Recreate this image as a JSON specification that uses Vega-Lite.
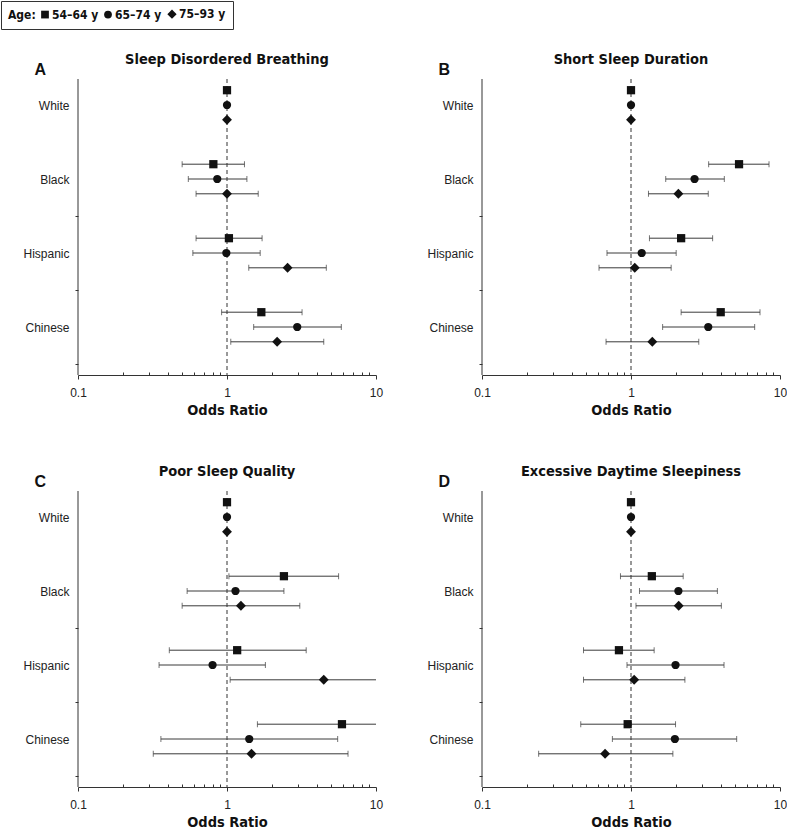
{
  "$schema": "https://vega.github.io/schema/vega-lite/v6.json",
  "padding": 0,
  "background": "white",
  "datasets": {
    "d": [
      {"panel": "A", "race": "White", "age": "54–64 y", "or": 1.0, "lo": null, "hi": null},
      {"panel": "A", "race": "White", "age": "65–74 y", "or": 1.0, "lo": null, "hi": null},
      {"panel": "A", "race": "White", "age": "75–93 y", "or": 1.0, "lo": null, "hi": null},
      {"panel": "A", "race": "Black", "age": "54–64 y", "or": 0.81, "lo": 0.50, "hi": 1.31},
      {"panel": "A", "race": "Black", "age": "65–74 y", "or": 0.86, "lo": 0.55, "hi": 1.36},
      {"panel": "A", "race": "Black", "age": "75–93 y", "or": 1.00, "lo": 0.62, "hi": 1.62},
      {"panel": "A", "race": "Hispanic", "age": "54–64 y", "or": 1.03, "lo": 0.62, "hi": 1.72},
      {"panel": "A", "race": "Hispanic", "age": "65–74 y", "or": 0.99, "lo": 0.59, "hi": 1.67},
      {"panel": "A", "race": "Hispanic", "age": "75–93 y", "or": 2.55, "lo": 1.40, "hi": 4.64},
      {"panel": "A", "race": "Chinese", "age": "54–64 y", "or": 1.70, "lo": 0.92, "hi": 3.19},
      {"panel": "A", "race": "Chinese", "age": "65–74 y", "or": 2.96, "lo": 1.51, "hi": 5.85},
      {"panel": "A", "race": "Chinese", "age": "75–93 y", "or": 2.17, "lo": 1.06, "hi": 4.46},

      {"panel": "B", "race": "White", "age": "54–64 y", "or": 1.0, "lo": null, "hi": null},
      {"panel": "B", "race": "White", "age": "65–74 y", "or": 1.0, "lo": null, "hi": null},
      {"panel": "B", "race": "White", "age": "75–93 y", "or": 1.0, "lo": null, "hi": null},
      {"panel": "B", "race": "Black", "age": "54–64 y", "or": 5.31, "lo": 3.32, "hi": 8.44},
      {"panel": "B", "race": "Black", "age": "65–74 y", "or": 2.67, "lo": 1.71, "hi": 4.23},
      {"panel": "B", "race": "Black", "age": "75–93 y", "or": 2.08, "lo": 1.31, "hi": 3.30},
      {"panel": "B", "race": "Hispanic", "age": "54–64 y", "or": 2.17, "lo": 1.33, "hi": 3.53},
      {"panel": "B", "race": "Hispanic", "age": "65–74 y", "or": 1.18, "lo": 0.69, "hi": 2.01},
      {"panel": "B", "race": "Hispanic", "age": "75–93 y", "or": 1.06, "lo": 0.61, "hi": 1.86},
      {"panel": "B", "race": "Chinese", "age": "54–64 y", "or": 4.00, "lo": 2.17, "hi": 7.34},
      {"panel": "B", "race": "Chinese", "age": "65–74 y", "or": 3.30, "lo": 1.63, "hi": 6.76},
      {"panel": "B", "race": "Chinese", "age": "75–93 y", "or": 1.39, "lo": 0.68, "hi": 2.85},

      {"panel": "C", "race": "White", "age": "54–64 y", "or": 1.0, "lo": null, "hi": null},
      {"panel": "C", "race": "White", "age": "65–74 y", "or": 1.0, "lo": null, "hi": null},
      {"panel": "C", "race": "White", "age": "75–93 y", "or": 1.0, "lo": null, "hi": null},
      {"panel": "C", "race": "Black", "age": "54–64 y", "or": 2.41, "lo": 1.03, "hi": 5.61},
      {"panel": "C", "race": "Black", "age": "65–74 y", "or": 1.14, "lo": 0.54, "hi": 2.41},
      {"panel": "C", "race": "Black", "age": "75–93 y", "or": 1.24, "lo": 0.50, "hi": 3.08},
      {"panel": "C", "race": "Hispanic", "age": "54–64 y", "or": 1.17, "lo": 0.41, "hi": 3.40},
      {"panel": "C", "race": "Hispanic", "age": "65–74 y", "or": 0.80, "lo": 0.35, "hi": 1.81},
      {"panel": "C", "race": "Hispanic", "age": "75–93 y", "or": 4.46, "lo": 1.05, "hi": 11},
      {"panel": "C", "race": "Chinese", "age": "54–64 y", "or": 5.91, "lo": 1.60, "hi": 11},
      {"panel": "C", "race": "Chinese", "age": "65–74 y", "or": 1.41, "lo": 0.36, "hi": 5.53},
      {"panel": "C", "race": "Chinese", "age": "75–93 y", "or": 1.46, "lo": 0.32, "hi": 6.49},

      {"panel": "D", "race": "White", "age": "54–64 y", "or": 1.0, "lo": null, "hi": null},
      {"panel": "D", "race": "White", "age": "65–74 y", "or": 1.0, "lo": null, "hi": null},
      {"panel": "D", "race": "White", "age": "75–93 y", "or": 1.0, "lo": null, "hi": null},
      {"panel": "D", "race": "Black", "age": "54–64 y", "or": 1.38, "lo": 0.85, "hi": 2.24},
      {"panel": "D", "race": "Black", "age": "65–74 y", "or": 2.08, "lo": 1.14, "hi": 3.80},
      {"panel": "D", "race": "Black", "age": "75–93 y", "or": 2.09, "lo": 1.08, "hi": 4.04},
      {"panel": "D", "race": "Hispanic", "age": "54–64 y", "or": 0.83, "lo": 0.48, "hi": 1.43},
      {"panel": "D", "race": "Hispanic", "age": "65–74 y", "or": 1.99, "lo": 0.94, "hi": 4.21},
      {"panel": "D", "race": "Hispanic", "age": "75–93 y", "or": 1.05, "lo": 0.48, "hi": 2.30},
      {"panel": "D", "race": "Chinese", "age": "54–64 y", "or": 0.95, "lo": 0.46, "hi": 1.99},
      {"panel": "D", "race": "Chinese", "age": "65–74 y", "or": 1.97, "lo": 0.75, "hi": 5.12},
      {"panel": "D", "race": "Chinese", "age": "75–93 y", "or": 0.67, "lo": 0.24, "hi": 1.91}
    ]
  },
  "columns": 2,
  "spacing": {"column": 43, "row": 46},
  "concat": [
    {
      "width": 298, "height": 296,
      "title": {"text": "Sleep Disordered Breathing"},
      "layer": [
        {"data": {"values": [{}]}, "mark": {"type": "rule", "color": "#333", "strokeWidth": 1}, "encoding": {"x": {"datum": 0.1, "type": "quantitative"}}},
        {"data": {"values": [{}]}, "mark": {"type": "rule", "color": "#333", "strokeWidth": 1, "strokeDash": [4, 3]}, "encoding": {"x": {"datum": 1, "type": "quantitative"}}},
        {
          "data": {"name": "d"},
          "transform": [{"filter": "datum.panel === 'A'"}],
          "encoding": {
            "y": {"field": "race", "type": "nominal", "sort": ["White", "Black", "Hispanic", "Chinese"], "scale": {"range": [-11, 285], "paddingInner": 0, "paddingOuter": 0},
              "axis": {"title": "A", "domain": false, "tickBand": "extent", "tickOpacity": {"condition": {"test": "datum.value === 'White' || datum.index < 0 || datum.extra", "value": 0}, "value": 1}}},
            "yOffset": {"field": "age", "type": "nominal", "sort": ["54–64 y", "65–74 y", "75–93 y"], "scale": {"paddingOuter": 1.14, "paddingInner": 0}}
          },
          "layer": [
            {"mark": {"type": "rule", "color": "#3a3a3a", "strokeWidth": 1, "clip": true}, "encoding": {"x": {"field": "lo", "type": "quantitative"}, "x2": {"field": "hi"}}},
            {"mark": {"type": "tick", "color": "#3a3a3a", "thickness": 1, "size": 6, "clip": true}, "encoding": {"x": {"field": "lo", "type": "quantitative"}}},
            {"mark": {"type": "tick", "color": "#3a3a3a", "thickness": 1, "size": 6, "clip": true}, "encoding": {"x": {"field": "hi", "type": "quantitative"}}},
            {"mark": {"type": "point", "filled": true, "color": "#111", "opacity": 1, "size": 68},
              "encoding": {
                "x": {"field": "or", "type": "quantitative", "scale": {"type": "log", "domain": [0.1, 10]}, "axis": {"title": "Odds Ratio"}},
                "shape": {"field": "age", "type": "nominal", "scale": {"domain": ["54–64 y", "65–74 y", "75–93 y"], "range": ["square", "circle", "M-1.2,0L0,-1.2L1.2,0L0,1.2Z"]},
                  "legend": {"title": "Age:", "orient": "none", "legendX": -77, "legendY": -78, "direction": "horizontal", "titleOrient": "left", "strokeColor": "#333", "fillColor": "white", "padding": 7, "titleFontSize": 12, "titleFontWeight": "bold", "labelFontSize": 12, "labelFontWeight": "bold", "titleFont": "Liberation Sans Narrow, DejaVu Sans Condensed, Liberation Sans", "labelFont": "Liberation Sans Narrow, DejaVu Sans Condensed, Liberation Sans", "symbolFillColor": "#111", "symbolStrokeColor": "#111", "symbolSize": 60, "labelOffset": 1, "columnPadding": 2, "titlePadding": 3, "labelColor": "#111", "titleColor": "#111"}}
              }}
          ]
        }
      ]
    },
    {
      "width": 298, "height": 296,
      "title": {"text": "Short Sleep Duration"},
      "layer": [
        {"data": {"values": [{}]}, "mark": {"type": "rule", "color": "#333", "strokeWidth": 1}, "encoding": {"x": {"datum": 0.1, "type": "quantitative"}}},
        {"data": {"values": [{}]}, "mark": {"type": "rule", "color": "#333", "strokeWidth": 1, "strokeDash": [4, 3]}, "encoding": {"x": {"datum": 1, "type": "quantitative"}}},
        {
          "data": {"name": "d"},
          "transform": [{"filter": "datum.panel === 'B'"}],
          "encoding": {
            "y": {"field": "race", "type": "nominal", "sort": ["White", "Black", "Hispanic", "Chinese"], "scale": {"range": [-11, 285], "paddingInner": 0, "paddingOuter": 0},
              "axis": {"title": "B", "domain": false, "tickBand": "extent", "tickOpacity": {"condition": {"test": "datum.value === 'White' || datum.index < 0 || datum.extra", "value": 0}, "value": 1}}},
            "yOffset": {"field": "age", "type": "nominal", "sort": ["54–64 y", "65–74 y", "75–93 y"], "scale": {"paddingOuter": 1.14, "paddingInner": 0}}
          },
          "layer": [
            {"mark": {"type": "rule", "color": "#3a3a3a", "strokeWidth": 1, "clip": true}, "encoding": {"x": {"field": "lo", "type": "quantitative"}, "x2": {"field": "hi"}}},
            {"mark": {"type": "tick", "color": "#3a3a3a", "thickness": 1, "size": 6, "clip": true}, "encoding": {"x": {"field": "lo", "type": "quantitative"}}},
            {"mark": {"type": "tick", "color": "#3a3a3a", "thickness": 1, "size": 6, "clip": true}, "encoding": {"x": {"field": "hi", "type": "quantitative"}}},
            {"mark": {"type": "point", "filled": true, "color": "#111", "opacity": 1, "size": 68},
              "encoding": {
                "x": {"field": "or", "type": "quantitative", "scale": {"type": "log", "domain": [0.1, 10]}, "axis": {"title": "Odds Ratio"}},
                "shape": {"field": "age", "type": "nominal"}
              }}
          ]
        }
      ]
    },
    {
      "width": 298, "height": 296,
      "title": {"text": "Poor Sleep Quality"},
      "layer": [
        {"data": {"values": [{}]}, "mark": {"type": "rule", "color": "#333", "strokeWidth": 1}, "encoding": {"x": {"datum": 0.1, "type": "quantitative"}}},
        {"data": {"values": [{}]}, "mark": {"type": "rule", "color": "#333", "strokeWidth": 1, "strokeDash": [4, 3]}, "encoding": {"x": {"datum": 1, "type": "quantitative"}}},
        {
          "data": {"name": "d"},
          "transform": [{"filter": "datum.panel === 'C'"}],
          "encoding": {
            "y": {"field": "race", "type": "nominal", "sort": ["White", "Black", "Hispanic", "Chinese"], "scale": {"range": [-11, 285], "paddingInner": 0, "paddingOuter": 0},
              "axis": {"title": "C", "domain": false, "tickBand": "extent", "tickOpacity": {"condition": {"test": "datum.value === 'White' || datum.index < 0 || datum.extra", "value": 0}, "value": 1}}},
            "yOffset": {"field": "age", "type": "nominal", "sort": ["54–64 y", "65–74 y", "75–93 y"], "scale": {"paddingOuter": 1.14, "paddingInner": 0}}
          },
          "layer": [
            {"mark": {"type": "rule", "color": "#3a3a3a", "strokeWidth": 1, "clip": true}, "encoding": {"x": {"field": "lo", "type": "quantitative"}, "x2": {"field": "hi"}}},
            {"mark": {"type": "tick", "color": "#3a3a3a", "thickness": 1, "size": 6, "clip": true}, "encoding": {"x": {"field": "lo", "type": "quantitative"}}},
            {"mark": {"type": "tick", "color": "#3a3a3a", "thickness": 1, "size": 6, "clip": true}, "encoding": {"x": {"field": "hi", "type": "quantitative"}}},
            {"mark": {"type": "point", "filled": true, "color": "#111", "opacity": 1, "size": 68},
              "encoding": {
                "x": {"field": "or", "type": "quantitative", "scale": {"type": "log", "domain": [0.1, 10]}, "axis": {"title": "Odds Ratio"}},
                "shape": {"field": "age", "type": "nominal"}
              }}
          ]
        }
      ]
    },
    {
      "width": 298, "height": 296,
      "title": {"text": "Excessive Daytime Sleepiness"},
      "layer": [
        {"data": {"values": [{}]}, "mark": {"type": "rule", "color": "#333", "strokeWidth": 1}, "encoding": {"x": {"datum": 0.1, "type": "quantitative"}}},
        {"data": {"values": [{}]}, "mark": {"type": "rule", "color": "#333", "strokeWidth": 1, "strokeDash": [4, 3]}, "encoding": {"x": {"datum": 1, "type": "quantitative"}}},
        {
          "data": {"name": "d"},
          "transform": [{"filter": "datum.panel === 'D'"}],
          "encoding": {
            "y": {"field": "race", "type": "nominal", "sort": ["White", "Black", "Hispanic", "Chinese"], "scale": {"range": [-11, 285], "paddingInner": 0, "paddingOuter": 0},
              "axis": {"title": "D", "domain": false, "tickBand": "extent", "tickOpacity": {"condition": {"test": "datum.value === 'White' || datum.index < 0 || datum.extra", "value": 0}, "value": 1}}},
            "yOffset": {"field": "age", "type": "nominal", "sort": ["54–64 y", "65–74 y", "75–93 y"], "scale": {"paddingOuter": 1.14, "paddingInner": 0}}
          },
          "layer": [
            {"mark": {"type": "rule", "color": "#3a3a3a", "strokeWidth": 1, "clip": true}, "encoding": {"x": {"field": "lo", "type": "quantitative"}, "x2": {"field": "hi"}}},
            {"mark": {"type": "tick", "color": "#3a3a3a", "thickness": 1, "size": 6, "clip": true}, "encoding": {"x": {"field": "lo", "type": "quantitative"}}},
            {"mark": {"type": "tick", "color": "#3a3a3a", "thickness": 1, "size": 6, "clip": true}, "encoding": {"x": {"field": "hi", "type": "quantitative"}}},
            {"mark": {"type": "point", "filled": true, "color": "#111", "opacity": 1, "size": 68},
              "encoding": {
                "x": {"field": "or", "type": "quantitative", "scale": {"type": "log", "domain": [0.1, 10]}, "axis": {"title": "Odds Ratio"}},
                "shape": {"field": "age", "type": "nominal"}
              }}
          ]
        }
      ]
    }
  ],
  "config": {
    "font": "Liberation Sans, Arial, sans-serif",
    "view": {"stroke": null},
    "title": {"fontSize": 14.5, "fontWeight": "bold", "font": "Liberation Sans Narrow, DejaVu Sans Condensed, Liberation Sans", "anchor": "middle", "frame": "group", "offset": -6, "color": "#111"},
    "axisY": {
      "labelFont": "Liberation Sans, Arial, sans-serif", "labelFontSize": 12, "labelColor": "#222", "tickColor": "#333", "tickSize": 3, "labelPadding": 6, "grid": false,
      "titleAngle": 0, "titleAlign": "left", "titleBaseline": "alphabetic", "titleX": -44, "titleY": -5, "titleFontSize": 16, "titleFontWeight": "bold", "titleColor": "#111", "titleFont": "Liberation Sans, Arial, sans-serif"
    },
    "axisX": {
      "values": [0.1, 0.2, 0.3, 0.4, 0.5, 0.6, 0.7, 0.8, 0.9, 1, 2, 3, 4, 5, 6, 7, 8, 9, 10],
      "labelExpr": "datum.value == 0.1 ? '0.1' : datum.value == 1 ? '1' : datum.value == 10 ? '10' : ''",
      "labelFlush": false, "labelOverlap": false, "grid": false,
      "tickSize": {"condition": {"test": "datum.value == 0.1 || datum.value == 1 || datum.value == 10", "value": 4}, "value": -3},
      "labelFont": "Liberation Sans, Arial, sans-serif", "labelFontSize": 12, "labelColor": "#222", "labelPadding": 8,
      "domainColor": "#333", "tickColor": "#333",
      "titleFont": "Liberation Sans Narrow, DejaVu Sans Condensed, Liberation Sans", "titleFontSize": 14.5, "titleFontWeight": "bold", "titleColor": "#111", "titlePadding": 5
    }
  }
}
